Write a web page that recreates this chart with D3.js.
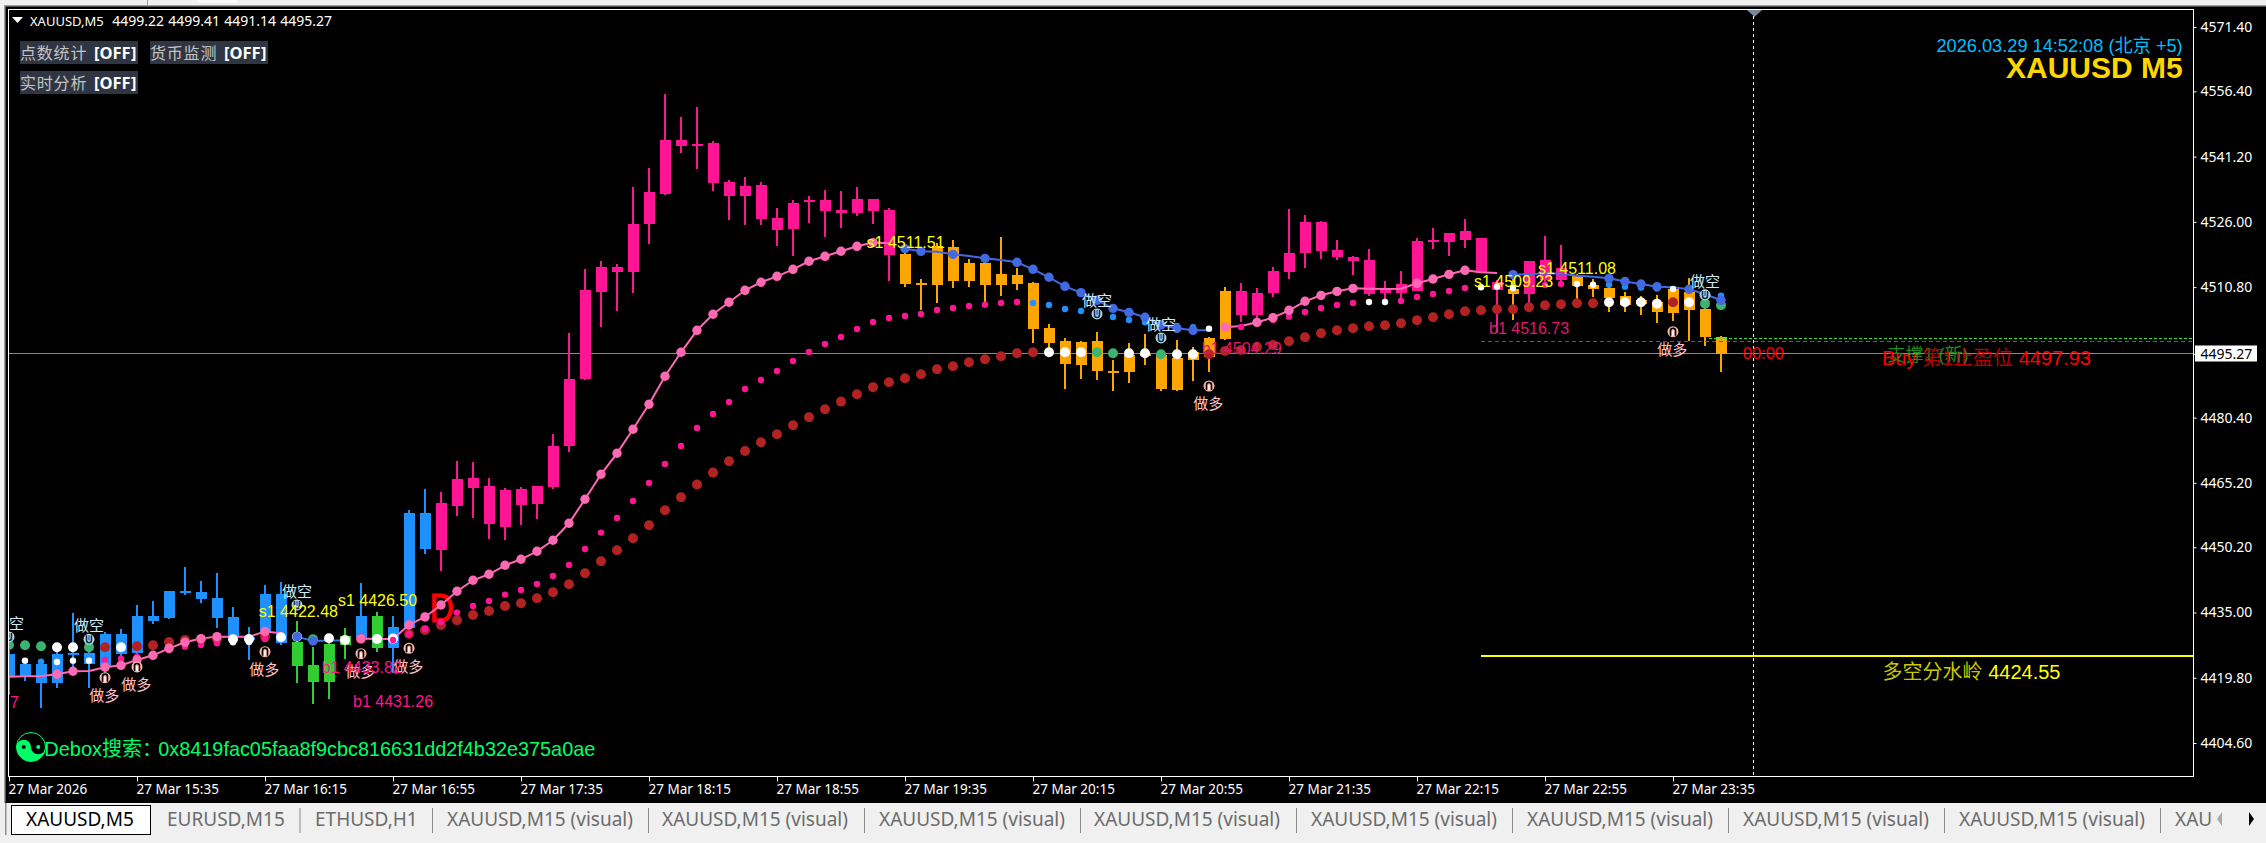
<!DOCTYPE html>
<html>
<head>
<meta charset="utf-8">
<title>XAUUSD,M5</title>
<script src="https://cdn.jsdelivr.net/npm/d3@7/dist/d3.min.js"></script>
<style>
    html, body { margin: 0; padding: 0; background: #000; overflow: hidden; }
    svg { display: block; }
    text { font-family: "Liberation Sans", "Noto Sans CJK SC", sans-serif; }
    .tah text, text.tah { font-family: "Noto Sans", "Noto Sans CJK SC", sans-serif; }
</style>
</head>
<body>
<svg id="chart" width="2266" height="843"></svg>
<script>
// Candles, one value per 5 minute bar. The colours do not follow direction, so the body edges are kept.
const highs = [
    4426.28,4424.33,4423.95,4426.66,4434.82,4428.6,4430.39,4431.17,4436.76,4437.69,
    4440.02,4445.53,4442.35,4444.21,4436.29,4431.56,4441.42,4442.04,4433.03,4426.97,
    4428.6,4431.4,4441.88,4435.13,4434.2,4458.89,4463.78,4463.08,4470.3,4470.07,
    4466.34,4464.01,4464.24,4464.48,4476.59,4500.05,4514.95,4516.82,4516.2,4534.13,
    4538.48,4555.8,4550.44,4552.77,4544.85,4535.76,4536.46,4535.3,4529.24,4531.11,
    4532.04,4533.44,4533.2,4534.13,4531.34,4529.24,4520.23,4512.62,4521.16,4521.78,
    4517.36,4518.29,4522.48,4515.26,4512.0,4502.21,4498.95,4498.25,4500.35,4493.83,
    4497.79,4499.88,4496.16,4498.49,4496.86,4499.11,4510.83,4511.77,4510.6,4515.49,
    4529.0,4527.61,4526.21,4521.78,4518.06,4519.69,4512.23,4514.56,4522.25,4524.58,
    4523.41,4526.67,4522.25,4512.46,4513.63,4516.89,4522.71,4520.62,4513.86,4512.7,
    4511.69,4509.67,4508.74,4508.97,4511.07,4512.93,4507.03,4499.41];
const bodyTops = [
    4425.34,4423.01,4423.01,4425.34,4425.5,4425.58,4430.0,4430.0,4434.2,4434.2,
    4440.02,4440.02,4439.79,4438.39,4433.96,4429.38,4439.32,4439.32,4428.14,4422.78,
    4427.67,4429.54,4434.2,4434.2,4431.63,4458.19,4458.19,4460.52,4466.11,4466.34,
    4464.48,4463.55,4463.78,4464.48,4473.79,4489.41,4510.14,4515.5,4515.5,4525.52,
    4532.97,4545.08,4545.08,4544.15,4544.38,4535.3,4534.37,4534.6,4526.91,4530.41,
    4531.03,4531.11,4528.7,4531.34,4531.34,4528.78,4518.52,4511.69,4520.38,4520.15,
    4516.42,4516.42,4513.86,4513.63,4511.77,4501.28,4498.25,4498.02,4498.25,4491.34,
    4494.99,4495.23,4494.99,4494.29,4495.69,4498.95,4509.9,4509.9,4509.44,4514.56,
    4518.75,4525.98,4525.98,4519.45,4517.82,4517.12,4510.37,4511.53,4521.55,4521.78,
    4523.41,4523.88,4522.25,4512.0,4510.37,4516.89,4517.12,4515.18,4513.4,4511.3,
    4510.6,4508.74,4507.8,4507.34,4510.37,4509.67,4505.71,4499.22];
const bodyBottoms = [
    4420.22,4420.06,4418.67,4418.67,4425.19,4423.01,4422.55,4425.34,4425.5,4433.03,
    4433.65,4439.48,4438.16,4433.65,4429.38,4428.6,4430.16,4427.83,4422.55,4418.82,
    4418.82,4427.44,4428.6,4426.74,4426.74,4431.48,4449.81,4449.57,4459.82,4464.02,
    4455.63,4454.93,4460.06,4460.29,4464.24,4473.79,4489.41,4509.75,4514.41,4514.41,
    4525.59,4532.5,4543.69,4543.76,4535.14,4532.12,4532.12,4526.76,4524.19,4524.43,
    4530.72,4528.62,4528.16,4528.08,4528.54,4518.37,4511.61,4511.38,4511.38,4512.31,
    4512.23,4511.38,4511.38,4511.53,4501.13,4497.79,4492.97,4492.74,4491.27,4490.88,
    4491.03,4494.91,4487.15,4486.84,4493.83,4494.6,4498.72,4504.31,4504.31,4509.44,
    4514.33,4518.75,4519.22,4517.82,4516.89,4509.2,4509.44,4509.44,4509.9,4521.32,
    4521.32,4521.78,4514.02,4510.13,4509.2,4509.2,4512.46,4512.46,4511.07,4510.37,
    4508.27,4506.64,4506.87,4505.01,4504.78,4505.48,4499.19,4495.27];
const lows = [
    4415.79,4419.13,4412.84,4417.5,4420.84,4417.35,4420.84,4424.72,4423.95,4432.33,
    4433.5,4439.09,4437.22,4431.4,4428.6,4423.95,4428.99,4427.44,4418.67,4413.7,
    4414.94,4424.18,4428.22,4425.81,4420.84,4431.33,4448.64,4444.68,4457.49,4457.03,
    4452.14,4451.9,4455.4,4456.8,4463.78,4472.4,4489.17,4501.6,4505.33,4509.52,
    4520.93,4532.27,4542.05,4538.25,4533.28,4526.52,4525.36,4525.36,4520.47,4518.14,
    4525.83,4522.56,4524.66,4527.46,4525.59,4512.31,4510.83,4505.48,4507.18,4510.6,
    4510.83,4507.18,4508.74,4510.13,4497.79,4495.38,4487.07,4489.4,4489.17,4486.61,
    4488.47,4492.66,4486.61,4486.61,4488.94,4491.03,4498.49,4502.68,4502.37,4508.5,
    4512.7,4515.26,4517.36,4517.12,4513.63,4508.74,4507.81,4507.03,4509.9,4519.69,
    4518.06,4519.92,4514.02,4500.04,4503.15,4506.25,4510.6,4510.91,4508.04,4508.5,
    4505.01,4505.01,4504.31,4502.45,4502.91,4498.25,4497.09,4491.14];
// [trend, number of bars]
const candleRuns = [["blue",18],["green",4],["blue",1],["green",1],["blue",3],["pink",29],["orange",21],["pink",17],["orange",1],["pink",3],["orange",10]];

// Indicator lines
const fastLine = [
    4420.06,4420.14,4420.22,4420.61,4421.31,4421.38,4422.24,4422.7,4423.95,4425.03,
    4426.66,4428.06,4428.92,4429.38,4429.38,4429.38,4430.55,4430.16,4429.38,4428.37,
    4428.45,4428.45,4428.92,4428.84,4428.84,4432.1,4433.97,4436.76,4439.95,4442.51,
    4443.91,4446.0,4447.4,4449.26,4451.83,4455.79,4461.38,4467.2,4472.09,4477.68,
    4483.51,4490.03,4495.62,4500.74,4504.47,4507.27,4510.06,4511.93,4513.32,4514.95,
    4516.82,4517.98,4519.15,4520.31,4521.17,4521.01,4519.76,4519.14,4519.06,4518.44,
    4518.05,4517.51,4517.12,4516.58,4514.95,4513.09,4510.99,4509.51,4507.73,4505.86,
    4504.93,4503.77,4501.98,4501.2,4500.74,4500.74,4501.44,4501.75,4502.6,4503.69,
    4505.4,4507.5,4508.89,4509.82,4510.52,4510.45,4510.37,4510.45,4511.69,4512.7,
    4513.78,4514.72,4514.25,4514.1,4513.71,4513.79,4514.02,4513.9,4513.47,4513.24,
    4512.85,4512.1,4511.53,4510.91,4510.76,4510.29,4509.13,4507.73];
const fastSegments = [["pink",0,17],["blue",18,21],["pink",22,55],["blue",56,75],["pink",76,93],["blue",94,107]];
const fastNoDot = [0,1,2,5,14,15,17,20,21,23,24,55,58,60,62,75,77,85,86,87,92,93,95,96,97,98,99,104];

const midDots = [
    null,4423.79,4423.56,4423.48,4423.79,4423.79,4423.95,4424.26,4424.72,4425.11,
    4426.28,4427.05,4427.44,4427.83,4428.06,4428.14,4428.84,null,null,null,
    null,null,null,null,4428.6,4430.01,4431.17,4432.8,4434.98,4436.53,
    4437.69,4439.17,4440.26,4441.65,4443.52,4446.08,4449.81,4453.61,4457.03,4460.99,
    4465.18,4469.61,4473.8,4477.99,4481.25,4484.05,4487.08,4489.17,4491.27,4493.6,
    4495.7,4497.56,4499.19,4501.06,4502.68,4503.61,4504.08,4504.54,4505.48,4505.94,
    4506.41,4506.72,4507.11,4507.34,4507.11,4506.64,4505.71,4505.24,4504.54,4503.85,
    4503.15,4502.6,4502.2,4501.75,4501.44,4501.13,4501.6,4501.52,4502.68,4503.15,
    4503.92,4505.01,4505.94,4506.64,4507.11,4507.34,4507.34,4507.57,4508.5,4509.2,
    4509.9,4510.6,4510.76,4510.91,4510.6,4511.0,4511.3,4511.53,4511.53,4511.38,
    4511.38,4510.91,4510.7,4510.5,4510.37,4510.2,4509.6,4508.81];
const midWhite = [1,3,4,5,14,15,75,85,86,92,93,94,98,99,104];
const midBlue = [2,64,65,66,67,68,69,70,71,72,73,74,100,101,102,103,105,106,107];

const slowDots = [
    4427.44,4427.36,4427.13,4426.9,4426.9,4426.9,4426.9,4426.9,4427.13,4427.36,
    4428.14,4428.6,4428.76,4428.84,4428.76,4428.84,4429.38,4429.23,4429.38,4428.76,
    4428.99,4428.6,4428.84,4428.84,4428.92,4430.01,4430.94,4432.1,4433.19,4434.43,
    4435.36,4436.53,4437.15,4438.31,4439.71,4441.58,4444.14,4446.93,4449.5,4452.29,
    4455.32,4458.81,4461.84,4464.8,4467.59,4470.23,4472.64,4474.65,4476.52,4478.61,
    4480.48,4482.34,4484.13,4485.84,4487.5,4488.62,4489.56,4490.49,4491.65,4492.35,
    4493.28,4493.98,4494.68,4495.38,4495.61,4495.61,4495.61,4495.61,4495.61,4495.38,
    4495.38,4495.38,4495.15,4495.15,4495.15,4495.15,4495.92,4496.16,4496.9,4497.32,
    4498.18,4499.11,4500.04,4500.74,4501.21,4501.67,4501.9,4502.37,4503.07,4503.77,
    4504.47,4505.17,4505.4,4505.63,4505.63,4506.1,4506.56,4506.8,4507.03,4507.03,
    4507.26,4507.26,4507.26,4506.95,4507.26,4507.26,4506.95,4506.56];
const slowWhite = [3,4,7,14,15,17,18,20,21,23,24,65,66,67,70,71,73,74,100,101,102,103,105];
const slowGreen = [0,1,2,5,19,68,69,72,106,107];

// Signals: [bar, price]
const longSignals = [[6,4419.82],[8,4422.31],[16,4425.88],[22,4425.42],[25,4426.67],[75,4487.77],[104,4500.42]];
const shortSignals = [[0,4429.3],[5,4428.76],[18,4436.76],[68,4504.55],[72,4498.96],[106,4508.97]];

// Chart labels: [text, bar, price, kind]
const chartLabels = [
    ["s1 4426.50",20.56,4436.53,"s"],
    ["s1 4422.48",15.61,4434.03,"s"],
    ["b1 4433.82",19.54,4420.99,"b"],
    ["b1 4431.26",21.5,4413.07,"b"],
    ["7",0.06,4412.77,"b"],
    ["s1 4511.51",53.6,4519.92,"s"],
    ["b1 4504.29",74.54,4495.23,"r"],
    ["s1 4509.23",91.56,4510.84,"s"],
    ["s1 4511.08",95.56,4513.86,"s"],
    ["b1 4516.73",92.5,4499.89,"r"]
];

// Level lines: [price, first bar]
const tpLevel = [4498.2, 92];
const supportLevel = [4498.89, 106.25];
const ridgeLevel = [4424.95, 92];
const lastPrice = 4495.27;
const separatorBar = 109;

const priceTicks = [4571.40,4556.40,4541.20,4526.00,4510.80,4480.40,4465.20,4450.20,4435.00,4419.80,4404.60];
const timeTicks = [0,8,16,24,32,40,48,56,64,72,80,88,96,104];
const timeLabels = ["27 Mar 2026","27 Mar 15:35","27 Mar 16:15","27 Mar 16:55","27 Mar 17:35","27 Mar 18:15","27 Mar 18:55","27 Mar 19:35","27 Mar 20:15","27 Mar 20:55","27 Mar 21:35","27 Mar 22:15","27 Mar 22:55","27 Mar 23:35"];
const ohlcHeader = ["4499.22","4499.41","4491.14","4495.27"];
const tabLabels = ["EURUSD,M15","ETHUSD,H1","XAUUSD,M15 (visual)","XAUUSD,M15 (visual)","XAUUSD,M15 (visual)","XAUUSD,M15 (visual)","XAUUSD,M15 (visual)","XAUUSD,M15 (visual)","XAUUSD,M15 (visual)","XAUUSD,M15 (visual)"];

const candleColors = {blue: "#1E90FF", green: "#32CD32", pink: "#FF1493", orange: "#FFA500"};
const fastColors = {pink: "#FF69B4", blue: "#4169E1"};
const labelColors = {s: "#FFFF00", b: "#FF1493", r: "#E0186E"};

const svg = d3.select("#chart");

function addText(parent, str, px, py, size, fill, anchor, extra) {
    let t = parent.append("text")
        .attr("x", px).attr("y", py)
        .attr("font-size", size)
        .attr("fill", fill)
        .attr("text-anchor", anchor || "start")
        .text(str);
    if (extra) t.attr("class", extra);
    return t;
}

// window chrome
svg.append("rect").attr("width", 2266).attr("height", 843).attr("fill", "#000");
svg.append("rect").attr("width", 2266).attr("height", 5).attr("fill", "#f0f0f0");
svg.append("rect").attr("y", 5).attr("width", 2266).attr("height", 1.5).attr("fill", "#a0a0a0");
svg.append("rect").attr("width", 4).attr("height", 803).attr("fill", "#f0f0f0");
svg.append("rect").attr("x", 4).attr("y", 5).attr("width", 1.5).attr("height", 798).attr("fill", "#a0a0a0");
svg.append("rect").attr("x", 147).attr("width", 1).attr("height", 5).attr("fill", "#a0a0a0");
svg.append("rect").attr("x", 198).attr("width", 39).attr("height", 3).attr("fill", "#fafafa");

// scales
const x = d3.scaleLinear().domain([0, 107]).range([9, 1721]);
const y = d3.scaleLinear().domain([4571.4, 4404.6]).range([27, 743]);

const plotLeft = 8.5, plotRight = 2193.5, plotTop = 9.5, plotBottom = 776.5;

svg.append("clipPath").attr("id", "plotClip").append("rect")
    .attr("x", plotLeft).attr("y", plotTop).attr("width", plotRight - plotLeft).attr("height", plotBottom - plotTop);

const plot = svg.append("g").attr("clip-path", "url(#plotClip)");

// last price and separator sit behind the bars
plot.append("line")
    .attr("x1", plotLeft).attr("x2", plotRight).attr("y1", y(lastPrice)).attr("y2", y(lastPrice))
    .attr("stroke", "#7f8a96").attr("stroke-width", 1).attr("shape-rendering", "crispEdges");
plot.append("line")
    .attr("x1", x(separatorBar)).attr("x2", x(separatorBar)).attr("y1", plotTop).attr("y2", plotBottom)
    .attr("stroke", "#fff").attr("stroke-width", 1).attr("stroke-dasharray", "3,3").attr("shape-rendering", "crispEdges");

// candles
let trend = [];
for (let run of candleRuns) {
    for (let k = 0; k < run[1]; k++) trend.push(run[0]);
}
const bars = d3.range(highs.length);

plot.append("g").selectAll("rect").data(bars).enter().append("rect")
    .attr("x", i => x(i) - 1)
    .attr("y", i => y(highs[i]))
    .attr("width", 2)
    .attr("height", i => y(lows[i]) - y(highs[i]))
    .attr("fill", i => candleColors[trend[i]])
    .attr("shape-rendering", "crispEdges");
plot.append("g").selectAll("rect").data(bars).enter().append("rect")
    .attr("x", i => x(i) - 5)
    .attr("y", i => y(bodyTops[i]))
    .attr("width", 11)
    .attr("height", i => Math.max(2, y(bodyBottoms[i]) - y(bodyTops[i])))
    .attr("fill", i => candleColors[trend[i]])
    .attr("shape-rendering", "crispEdges");

// level lines
plot.append("line")
    .attr("x1", x(tpLevel[1])).attr("x2", plotRight).attr("y1", y(tpLevel[0])).attr("y2", y(tpLevel[0]))
    .attr("stroke", "#E0202A").attr("stroke-dasharray", "4,3").attr("shape-rendering", "crispEdges");
plot.append("line")
    .attr("x1", x(supportLevel[1])).attr("x2", plotRight).attr("y1", y(supportLevel[0])).attr("y2", y(supportLevel[0]))
    .attr("stroke", "#32E632").attr("stroke-dasharray", "3,2").attr("shape-rendering", "crispEdges");
plot.append("line")
    .attr("x1", x(ridgeLevel[1])).attr("x2", plotRight).attr("y1", y(ridgeLevel[0])).attr("y2", y(ridgeLevel[0]))
    .attr("stroke", "#FFFF00").attr("stroke-width", 2).attr("shape-rendering", "crispEdges");

// the red D marker under the lines
addText(plot, "D", x(26.3), y(4432.8), 40, "#FF0000")
    .attr("textLength", 24).attr("lengthAdjust", "spacingAndGlyphs")
    .attr("stroke", "#FF0000").attr("stroke-width", 1.2);

// fast line
let fastGen = d3.line().x(i => x(i)).y(i => y(fastLine[i]));
for (let seg of fastSegments) {
    plot.append("path")
        .attr("d", fastGen(d3.range(seg[1], seg[2] + 1)))
        .attr("fill", "none")
        .attr("stroke", fastColors[seg[0]])
        .attr("stroke-width", 2);
}

// slow dots, then mid dots, then fast dots on top
plot.append("g").selectAll("circle").data(bars).enter().append("circle")
    .attr("cx", i => x(i))
    .attr("cy", i => y(slowDots[i]))
    .attr("r", 5)
    .attr("fill", i => slowWhite.includes(i) ? "#fff" : slowGreen.includes(i) ? "#3CB371" : "#B22222");
plot.append("g").selectAll("circle").data(bars.filter(i => midDots[i] !== null)).enter().append("circle")
    .attr("cx", i => x(i))
    .attr("cy", i => y(midDots[i]))
    .attr("r", 3.2)
    .attr("fill", i => midWhite.includes(i) ? "#fff" : midBlue.includes(i) ? "#1E90FF" : "#FF1493");
let fastColorAt = i => fastColors[fastSegments.find(s => i >= s[1] && i <= s[2])[0]];
plot.append("g").selectAll("circle").data(bars.filter(i => !fastNoDot.includes(i))).enter().append("circle")
    .attr("cx", i => x(i))
    .attr("cy", i => y(fastLine[i]))
    .attr("r", 4.7)
    .attr("fill", fastColorAt);

// long / short signals
for (let d of longSignals) {
    let g = plot.append("g").attr("transform", "translate(" + x(d[0]) + "," + y(d[1]) + ")");
    g.append("circle").attr("r", 5.5).attr("fill", "#FFB6A8");
    g.append("path").attr("d", "M-2.5,4 V-1 A2.5,2.5 0 0 1 2.5,-1 V4").attr("fill", "none").attr("stroke", "#000").attr("stroke-width", 1.6);
    g.append("rect").attr("x", -0.8).attr("y", -1).attr("width", 1.6).attr("height", 5).attr("fill", "#fff");
    addText(plot, "做多", x(d[0]) - 15.7, y(d[1]) + 23.5, 15, "#FFC0CB");
}
for (let d of shortSignals) {
    let g = plot.append("g").attr("transform", "translate(" + x(d[0]) + "," + y(d[1]) + ")");
    g.append("circle").attr("r", 5.5).attr("fill", "#ADD8E6");
    g.append("path").attr("d", "M-2.5,-4 V1 A2.5,2.5 0 0 0 2.5,1 V-4").attr("fill", "none").attr("stroke", "#1c2a3a").attr("stroke-width", 1.6);
    g.append("rect").attr("x", -0.8).attr("y", -4).attr("width", 1.6).attr("height", 5).attr("fill", "#4169E1");
    addText(plot, "做空", x(d[0]) - 15, y(d[1]) - 8, 15, "#CFE8F5");
}

// s1 / b1 labels
for (let d of chartLabels) {
    addText(plot, d[0], x(d[1]), y(d[2]), 16, labelColors[d[3]]);
}

// right side labels
addText(plot, "00:00", x(108.36), y(4494.06), 16.5, "#FF0000");
addText(plot, "支撑1 (新)", x(117.4), y(4493.6), 18, "#1E8C1E");
let buy = addText(plot, "", x(117.06), y(4492.67), 20, "#FF0000");
buy.append("tspan").text("Buy ");
buy.append("tspan").attr("fill", "#B80000").text("第1止盈位 ");
buy.append("tspan").text("4497.93");
let ridge = addText(plot, "", x(117.1), y(4419.52), 20, "#FFFF00");
ridge.append("tspan").attr("fill", "#C8C800").text("多空分水岭 ");
ridge.append("tspan").text("4424.55");

addText(svg, "2026.03.29 14:52:08 (北京 +5)", 2182.7, 52, 18.2, "#00BFFF", "end");
addText(svg, "XAUUSD M5", 2182.7, 78, 30, "#FFD700", "end").attr("font-weight", "bold");

// Debox line with the yin-yang mark
let yyR = 14.5;
let yy = svg.append("g").attr("transform", "translate(31,747)");
yy.append("circle").attr("r", yyR).attr("fill", "none").attr("stroke", "#00FF66");
yy.append("path")
    .attr("d", "M" + (-yyR) + ",0 A" + yyR + "," + yyR + " 0 0 0 " + yyR + ",0 A" + (yyR / 2) + "," + (yyR / 2) + " 0 0 1 0,0 A" + (yyR / 2) + "," + (yyR / 2) + " 0 0 0 " + (-yyR) + ",0 Z")
    .attr("fill", "#00FF66");
yy.append("circle").attr("cx", -yyR / 2).attr("r", 2).attr("fill", "#000");
yy.append("circle").attr("cx", yyR / 2).attr("r", 2).attr("fill", "#00FF66");
let debox = addText(svg, "", 44.3, 756, 20, "#00FF66");
debox.append("tspan").text("Debox搜索：");
debox.append("tspan").attr("x", 158.3).attr("font-size", 19.85).text("0x8419fac05faa8f9cbc816631dd2f4b32e375a0ae");

// frame
svg.append("rect")
    .attr("x", plotLeft).attr("y", plotTop).attr("width", plotRight - plotLeft).attr("height", plotBottom - plotTop)
    .attr("fill", "none").attr("stroke", "#fff").attr("shape-rendering", "crispEdges");
svg.append("path").attr("d", "M1747,10 H1762 L1754.5,17 Z").attr("fill", "#778899");

// last price tag
svg.append("rect").attr("x", 2195).attr("y", 345.5).attr("width", 62).attr("height", 16).attr("fill", "#fff");

// axes
let yAxis = d3.axisRight(y).tickValues(priceTicks.concat([lastPrice])).tickSize(3).tickPadding(4).tickFormat(d3.format(".2f"));
let gy = svg.append("g").attr("class", "tah").attr("transform", "translate(" + plotRight + ",0)").call(yAxis);
gy.select(".domain").remove();
gy.selectAll(".tick line").attr("stroke", "#fff");
gy.selectAll(".tick text").attr("fill", "#fff").attr("font-size", 14).attr("font-family", null);
gy.selectAll(".tick text").filter(d => d === lastPrice).attr("fill", "#000");

let xAxis = d3.axisBottom(x).tickValues(timeTicks).tickSize(5).tickPadding(2).tickFormat((d, i) => timeLabels[i]);
let gx = svg.append("g").attr("class", "tah").attr("transform", "translate(0," + plotBottom + ")").call(xAxis);
gx.select(".domain").remove();
gx.selectAll(".tick line").attr("stroke", "#fff");
gx.selectAll(".tick text").attr("fill", "#fff").attr("font-size", 13.5).attr("font-family", null)
    .attr("text-anchor", "start").attr("x", -1).attr("y", 8);

// header
svg.append("path").attr("d", "M12,17 H23 L17.5,23 Z").attr("fill", "#fff");
addText(svg, "XAUUSD,M5", 30, 26, 13, "#fff", "start", "tah");
ohlcHeader.forEach((v, i) => addText(svg, v, 112.3 + i * 56, 26, 14, "#fff", "start", "tah"));

// the toggle buttons
function addButton(bx, by, label) {
    let b = svg.append("svg").attr("x", bx).attr("y", by).attr("width", 118).attr("height", 23);
    b.append("rect").attr("width", 118).attr("height", 23).attr("fill", "#2F3542");
    addText(b, label, 0, 18, 16, "#C4C4C4").attr("letter-spacing", 0.8);
    addText(b, "[OFF]", 74, 18, 16.5, "#fff", "start", "tah").attr("font-weight", "bold");
}
addButton(20, 41, "点数统计");
addButton(150, 41, "货币监测");
addButton(20, 71, "实时分析");

// tab bar
svg.append("rect").attr("y", 803).attr("width", 2266).attr("height", 40).attr("fill", "#f0f0f0");
svg.append("rect").attr("x", 5).attr("y", 803).attr("width", 1.5).attr("height", 32).attr("fill", "#909090");
svg.append("rect").attr("x", 11.5).attr("y", 805.5).attr("width", 139).attr("height", 29)
    .attr("fill", "#fff").attr("stroke", "#000").attr("shape-rendering", "crispEdges");
addText(svg, "XAUUSD,M5", 26, 826, 19, "#000", "start", "tah");

const tabStarts = [167, 315, 447, 662, 879, 1094, 1311, 1527, 1743, 1959];
const tabSeps = [299.5, 432, 648, 864, 1080, 1296, 1512, 1728, 1944, 2160];
tabLabels.forEach((t, i) => addText(svg, t, tabStarts[i], 826, 19, "#6c6c6c", "start", "tah"));
tabSeps.forEach(s => svg.append("rect").attr("x", s).attr("y", 808).attr("width", 1).attr("height", 25).attr("fill", "#8a8a8a"));
addText(svg, "XAU", 2175, 826, 19, "#6c6c6c", "start", "tah");
svg.append("path").attr("d", "M2222,812 L2217,819 L2222,826 Z").attr("fill", "#a8a8a8");
svg.append("path").attr("d", "M2249,812 L2254,819 L2249,826 Z").attr("fill", "#000");
</script>
</body>
</html>
